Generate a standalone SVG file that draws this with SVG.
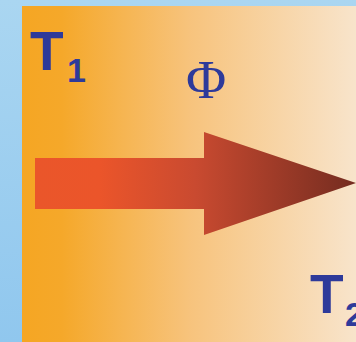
<svg xmlns="http://www.w3.org/2000/svg" width="356" height="342" viewBox="0 0 356 342">
<defs>
<linearGradient id="bg" x1="0" y1="0" x2="0" y2="1">
<stop offset="0" stop-color="#aad6f1"/>
<stop offset="1" stop-color="#90c7ee"/>
</linearGradient>
<linearGradient id="panel" x1="22" y1="0" x2="356" y2="0" gradientUnits="userSpaceOnUse">
<stop offset="0" stop-color="#f5a623"/>
<stop offset="0.12" stop-color="#f5a82a"/>
<stop offset="0.5" stop-color="#f7c37c"/>
<stop offset="1" stop-color="#f8e4cb"/>
</linearGradient>
<linearGradient id="arrowGrad" x1="35" y1="0" x2="356" y2="0" gradientUnits="userSpaceOnUse">
<stop offset="0" stop-color="#ea562a"/>
<stop offset="0.2" stop-color="#eb552a"/>
<stop offset="0.5" stop-color="#c94a30"/>
<stop offset="1" stop-color="#742c20"/>
</linearGradient>
<style>
.lbl{font-family:"Liberation Sans",Arial,sans-serif;font-weight:bold;fill:#2e3a9a}
.phi{font-family:"Liberation Serif","Times New Roman",serif;fill:#2e3a9a}
</style>
</defs>
<rect x="0" y="0" width="356" height="342" fill="url(#bg)"/>
<rect x="22" y="6" width="334" height="336" fill="url(#panel)"/>
<g id="arrow">
<polygon points="35,158 204,158 204,132 356,183 204,235 204,209 35,209" fill="url(#arrowGrad)"/>
</g>
<g id="T1">
<text class="lbl" x="30" y="70" font-size="55">T</text>
<text class="lbl" x="67" y="82" font-size="34">1</text>
</g>
<g id="phi">
<text class="phi" x="206" y="98" font-size="55" text-anchor="middle">Φ</text>
</g>
<g id="T2">
<text class="lbl" x="310" y="313" font-size="55">T</text>
<text class="lbl" x="345" y="326" font-size="34">2</text>
</g>
</svg>
